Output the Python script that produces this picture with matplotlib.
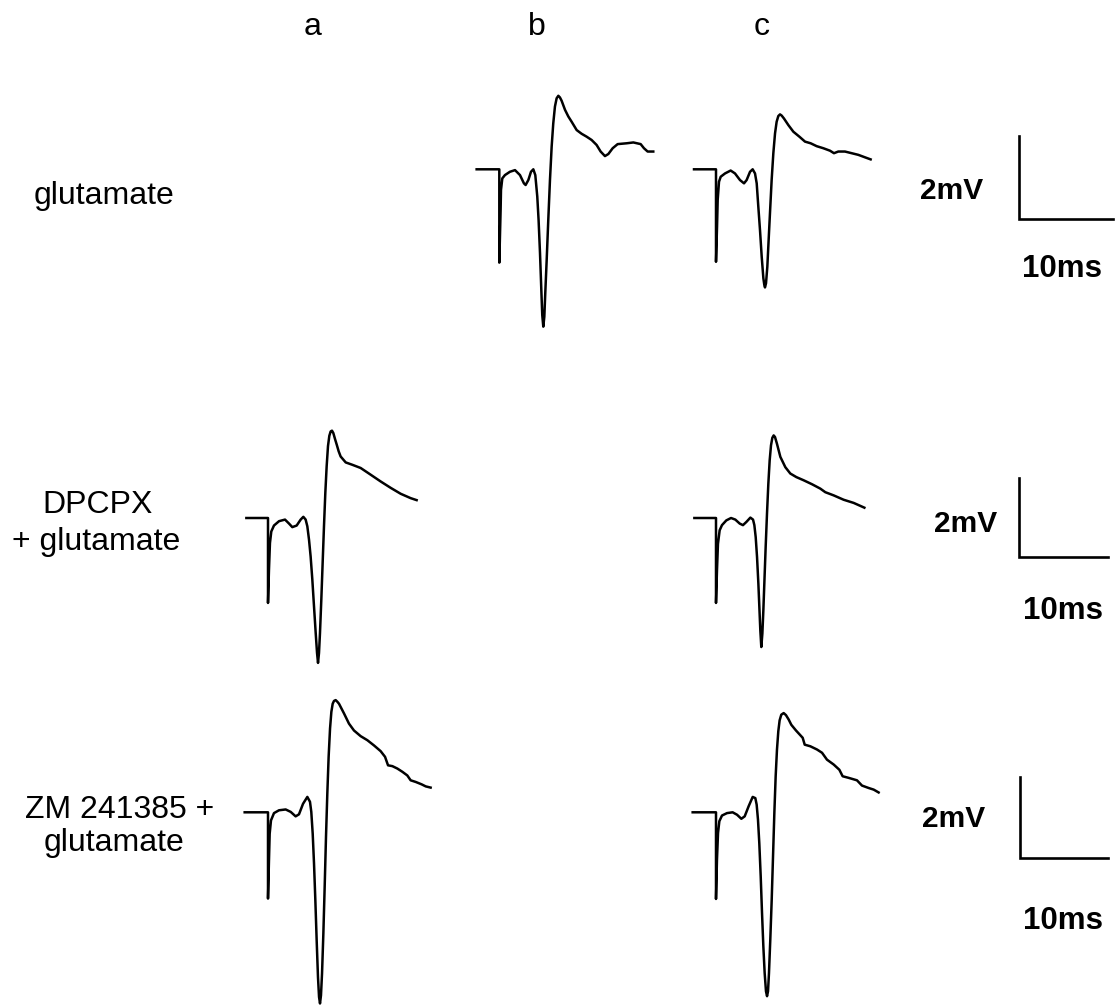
import matplotlib.pyplot as plt

plt.rcParams['font.family'] = ['Liberation Sans', 'DejaVu Sans']

# field potential traces: time from stimulus (ms), voltage from baseline (mV)
glu_b_t = [-2.41, 0, 0, 0.14, 0.18, 0.32, 0.60, 1.13, 1.67, 2.20, 2.62, 2.80, 3.09, 3.37, 3.62,
           3.83, 4.04, 4.18, 4.33, 4.47, 4.57, 4.68, 4.79, 4.89, 5.04, 5.21, 5.39, 5.57, 5.74,
           5.92, 6.10, 6.28, 6.45, 6.63, 6.99, 7.34, 7.70, 8.23, 8.76, 9.29, 9.82, 10.35, 10.78,
           11.24, 11.60, 12.06, 12.59, 13.55, 14.26, 15.04, 15.39, 15.78, 16.38]
glu_b_mv = [0, 0, -2.26, -0.98, -0.50, -0.22, -0.14, -0.06, -0.02, -0.14, -0.34, -0.38, -0.26,
            -0.06, 0, -0.14, -0.66, -1.23, -2.03, -2.92, -3.53, -3.81, -3.57, -3.00, -2.20,
            -1.23, -0.26, 0.55, 1.11, 1.52, 1.72, 1.78, 1.74, 1.66, 1.44, 1.28, 1.15, 0.95, 0.86,
            0.79, 0.71, 0.59, 0.43, 0.32, 0.37, 0.51, 0.61, 0.63, 0.65, 0.61, 0.51, 0.43, 0.43]

glu_c_t = [-2.34, 0, 0, 0.11, 0.18, 0.32, 0.50, 0.96, 1.56, 2.02, 2.55, 2.98, 3.26, 3.62, 3.90,
           4.15, 4.33, 4.50, 4.68, 4.86, 5.04, 5.14, 5.21, 5.32, 5.46, 5.60, 5.74, 5.92, 6.10,
           6.28, 6.45, 6.63, 6.81, 6.99, 7.23, 7.70, 8.23, 8.87, 9.47, 10.07, 10.71, 11.42,
           12.13, 12.55, 13.01, 13.72, 14.43, 15.14, 15.85, 16.45]
glu_c_mv = [0, 0, -2.24, -1.39, -0.74, -0.30, -0.18, -0.10, -0.03, -0.10, -0.26, -0.34, -0.26,
            -0.06, 0, -0.10, -0.34, -0.90, -1.47, -2.11, -2.64, -2.80, -2.86, -2.76, -2.36,
            -1.71, -1.07, -0.26, 0.39, 0.87, 1.15, 1.29, 1.33, 1.30, 1.23, 1.07, 0.91, 0.79, 0.67,
            0.63, 0.56, 0.51, 0.45, 0.39, 0.43, 0.43, 0.39, 0.35, 0.29, 0.24]

dpcpx_a_t = [-2.43, 0, 0, 0.11, 0.22, 0.37, 0.67, 1.24, 1.91, 2.36, 2.73, 3.22, 3.67, 3.97, 4.23,
             4.42, 4.61, 4.79, 4.98, 5.17, 5.36, 5.51, 5.62, 5.73, 5.84, 5.99, 6.14, 6.29, 6.44,
             6.59, 6.74, 6.89, 7.04, 7.19, 7.34, 7.53, 7.72, 7.94, 8.16, 8.73, 9.48, 10.41,
             11.54, 12.66, 13.78, 14.91, 16.03, 16.70]
dpcpx_a_mv = [0, 0, -2.14, -1.30, -0.63, -0.34, -0.19, -0.08, -0.04, -0.14, -0.23, -0.19, -0.04,
              0.03, -0.04, -0.21, -0.55, -0.97, -1.55, -2.23, -2.90, -3.40, -3.65, -3.40, -2.90,
              -2.06, -1.13, -0.21, 0.63, 1.30, 1.81, 2.07, 2.18, 2.20, 2.14, 1.99, 1.85, 1.68,
              1.55, 1.40, 1.34, 1.26, 1.09, 0.92, 0.76, 0.61, 0.50, 0.45]

dpcpx_c_t = [-2.43, 0, 0, 0.11, 0.22, 0.41, 0.67, 1.16, 1.69, 2.17, 2.66, 3.03, 3.41, 3.86, 4.16,
             4.31, 4.46, 4.61, 4.76, 4.87, 4.98, 5.09, 5.21, 5.32, 5.43, 5.58, 5.73, 5.88, 6.03,
             6.18, 6.33, 6.48, 6.63, 6.85, 7.23, 7.79, 8.35, 9.03, 9.85, 10.79, 11.72, 12.28,
             13.22, 14.34, 15.47, 16.67]
dpcpx_c_mv = [0, 0, -2.14, -1.32, -0.65, -0.31, -0.18, -0.06, 0, -0.04, -0.14, -0.18, -0.10,
              0.01, -0.04, -0.18, -0.48, -0.98, -1.65, -2.24, -2.83, -3.25, -2.91, -2.33, -1.65,
              -0.73, 0.11, 0.86, 1.45, 1.83, 2.02, 2.08, 2.04, 1.87, 1.54, 1.28, 1.12, 1.03, 0.95,
              0.85, 0.74, 0.65, 0.57, 0.46, 0.38, 0.26]

zm_a_t = [-2.65, 0, 0, 0.11, 0.19, 0.34, 0.68, 1.25, 2.01, 2.58, 3.14, 3.52, 3.98, 4.47, 4.77,
          4.92, 5.08, 5.23, 5.38, 5.53, 5.68, 5.80, 5.91, 6.02, 6.14, 6.29, 6.44, 6.59, 6.74,
          6.89, 7.05, 7.20, 7.35, 7.50, 7.69, 7.88, 8.07, 8.64, 9.20, 9.77, 10.53, 11.29, 12.05,
          12.80, 13.30, 13.64, 14.13, 14.70, 15.27, 15.83, 16.21, 16.78, 17.46, 17.92, 18.48]
zm_a_mv = [0, 0, -2.13, -1.19, -0.53, -0.20, -0.02, 0.05, 0.07, 0.01, -0.10, -0.05, 0.21, 0.38,
           0.26, 0.01, -0.53, -1.27, -2.17, -3.16, -4.07, -4.56, -4.72, -4.52, -3.98, -3.00,
           -1.84, -0.61, 0.46, 1.37, 2.07, 2.48, 2.68, 2.75, 2.77, 2.73, 2.68, 2.44, 2.19, 2.02,
           1.88, 1.78, 1.65, 1.51, 1.37, 1.16, 1.14, 1.08, 1.00, 0.91, 0.79, 0.75, 0.69, 0.64,
           0.61]

zm_c_t = [-2.65, 0, 0, 0.11, 0.23, 0.38, 0.68, 1.25, 1.89, 2.39, 2.88, 3.26, 3.71, 4.17, 4.47,
          4.62, 4.77, 4.92, 5.08, 5.23, 5.38, 5.53, 5.68, 5.80, 5.91, 6.02, 6.17, 6.33, 6.48,
          6.63, 6.78, 6.93, 7.08, 7.23, 7.42, 7.69, 7.95, 8.26, 8.56, 9.09, 9.85, 10.08, 10.72,
          11.48, 12.05, 12.61, 13.37, 14.02, 14.39, 15.08, 16.02, 16.59, 17.35, 17.92, 18.48]
zm_c_mv = [0, 0, -2.14, -1.17, -0.51, -0.22, -0.08, -0.02, 0, -0.06, -0.16, -0.10, 0.15, 0.38,
           0.35, 0.19, -0.18, -0.76, -1.58, -2.49, -3.31, -3.97, -4.42, -4.54, -4.42, -3.97,
           -3.14, -2.16, -1.09, -0.02, 0.89, 1.55, 2.00, 2.27, 2.41, 2.45, 2.40, 2.29, 2.16,
           2.02, 1.84, 1.67, 1.63, 1.55, 1.47, 1.30, 1.18, 1.05, 0.89, 0.85, 0.79, 0.66, 0.60,
           0.56, 0.49]

column_labels = ['a', 'b', 'c']
row_labels = [['glutamate'], ['DPCPX', '+ glutamate'], ['ZM 241385 +', 'glutamate']]
bar_ms = 10
bar_mv = 2

W, H = 1120, 1005
fig = plt.figure(figsize=(W / 100, H / 100), dpi=100)

# per-row layout: baseline y (px), px per ms, px per mV, scale-bar corner (px)
rows = [
    dict(y=169.3, sx=9.4, sy=41.3, bar=(1019, 219), mv_txt=(952, 199), ms_txt=(1062, 277)),
    dict(y=518.0, sx=8.9, sy=39.7, bar=(1019, 557), mv_txt=(966, 532), ms_txt=(1063, 619)),
    dict(y=812.3, sx=8.8, sy=40.5, bar=(1020, 858), mv_txt=(954, 827), ms_txt=(1063, 929)),
]
col_x = {'a': 268.0, 'b': 499.3, 'c': 716.0}

traces = [
    (0, 'b', glu_b_t, glu_b_mv),
    (0, 'c', glu_c_t, glu_c_mv),
    (1, 'a', dpcpx_a_t, dpcpx_a_mv),
    (1, 'c', dpcpx_c_t, dpcpx_c_mv),
    (2, 'a', zm_a_t, zm_a_mv),
    (2, 'c', zm_c_t, zm_c_mv),
]


def add_panel(x_px, y_px, sx, sy, xlim=(-3, 20), ylim=(-5, 3.5)):
    """Axes whose data origin sits at pixel (x_px, y_px) with the given px/unit scale."""
    left = x_px + xlim[0] * sx
    top = y_px - ylim[1] * sy
    w = (xlim[1] - xlim[0]) * sx
    h = (ylim[1] - ylim[0]) * sy
    ax = fig.add_axes([left / W, 1 - (top + h) / H, w / W, h / H])
    ax.set_xlim(*xlim)
    ax.set_ylim(*ylim)
    ax.axis('off')
    ax.patch.set_alpha(0)
    return ax


def px_text(x, y, s, **kw):
    fig.text(x / W, 1 - y / H, s, ha='center', va='baseline', **kw)


for r, col, t, v in traces:
    row = rows[r]
    ax = add_panel(col_x[col], row['y'], row['sx'], row['sy'])
    ax.plot(t, v, color='black', lw=1.8, solid_joinstyle='round', clip_on=False)

for row in rows:
    ax = add_panel(row['bar'][0], row['bar'][1], row['sx'], row['sy'],
                   xlim=(-1, 12), ylim=(-1, 3))
    ax.plot([0, 0, bar_ms], [bar_mv, 0, 0], color='black', lw=1.9,
            solid_joinstyle='miter', clip_on=False)
    px_text(*row['mv_txt'], f'{bar_mv}mV', fontsize=21.5, fontweight='bold')
    px_text(*row['ms_txt'], f'{bar_ms}ms', fontsize=22.5, fontweight='bold')

for lab, x in zip(column_labels, [313, 537, 762]):
    px_text(x, 35, lab, fontsize=23)

label_pos = [[(104, 204)], [(98, 513), (96, 550)], [(120, 818), (114, 851)]]
for lines, pos in zip(row_labels, label_pos):
    for s, (x, y) in zip(lines, pos):
        px_text(x, y, s, fontsize=23)

fig.savefig('out.png', dpi=100, facecolor='white')
